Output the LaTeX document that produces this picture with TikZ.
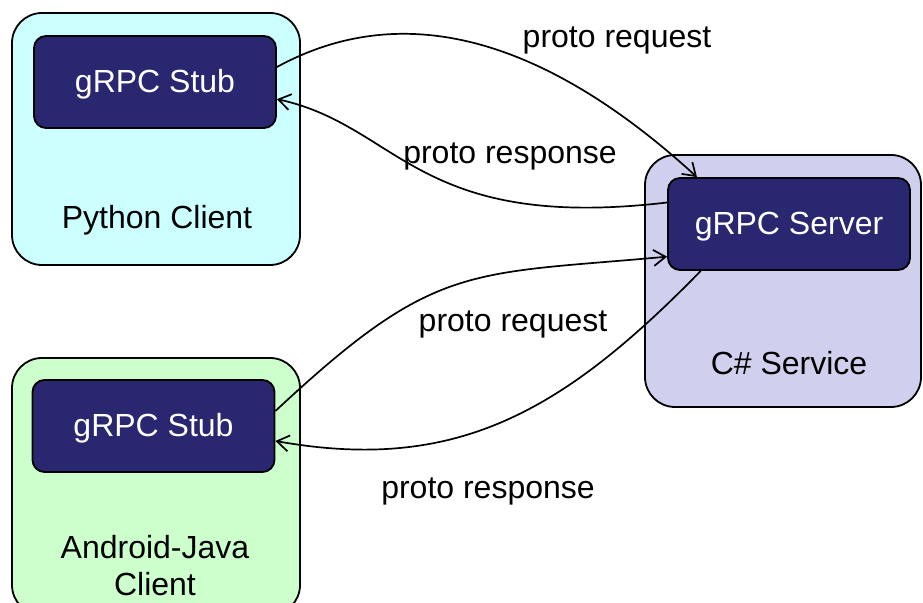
\documentclass[tikz,border=0pt]{standalone}
\usepackage{fontspec}
\setmainfont{Liberation Sans}
\usetikzlibrary{arrows.meta}

\definecolor{stubblue}{RGB}{41,39,111}
\definecolor{pyfill}{RGB}{204,255,255}
\definecolor{javafill}{RGB}{204,255,204}
\definecolor{csfill}{RGB}{208,208,238}

\begin{document}
\begin{tikzpicture}[x=0.5pt,y=-0.5pt]
        \tikzstyle{every node}=[font=\fontsize{16}{18.5}\selectfont, inner sep=0pt];
        \tikzstyle{host}=[draw, line width=0.9pt, rounded corners=15pt, minimum width=144pt, minimum height=126pt];
        \tikzstyle{stub}=[draw, fill=stubblue, text=white, line width=0.9pt, rounded corners=6pt, minimum width=121pt, minimum height=46pt, text height=11pt, text depth=0pt];
        \tikzstyle{msg}=[-{Straight Barb[length=6pt,width=8pt]}, line width=0.85pt];
        \useasboundingbox (0,0) rectangle (923,603);

        % the three processes
        \node[host, fill=pyfill] (py) at (156,139) {};
        \node[host, fill=javafill, minimum height=128.5pt] (java) at (156,486.5) {};
        \node[host, fill=csfill, minimum width=138pt] (cs) at (783,281) {};
        \node (pyname) at (157,220) {Python Client};
        \node[align=center] (javaname) at (155,566) {Android-Java\\Client};
        \node (csname) at (789,363) {C\# Service};

        \node[stub] (pystub) at (155,82) {gRPC Stub};
        \node[stub] (javastub) at (153.5,426) {gRPC Stub};
        \node[stub] (srv) at (789,224) {gRPC Server};

        % calls
        \draw[msg] (pystub.7) .. controls (407,-4) and (549,42) .. (srv.153);
        \draw[msg] (srv.170) .. controls (416,232) and (400,126) .. (pystub.-8);
        \draw[msg] (javastub.7) .. controls (435,262) and (466,275) .. (srv.195);
        \draw[msg] (srv.208) .. controls (562,413) and (455,473) .. (javastub.-7);

        \node (pyreq) at (617,40) {proto request};
        \node (pyresp) at (510,156) {proto response};
        \node (javareq) at (513,324) {proto request};
        \node (javaresp) at (488,491) {proto response};
\end{tikzpicture}
\end{document}
